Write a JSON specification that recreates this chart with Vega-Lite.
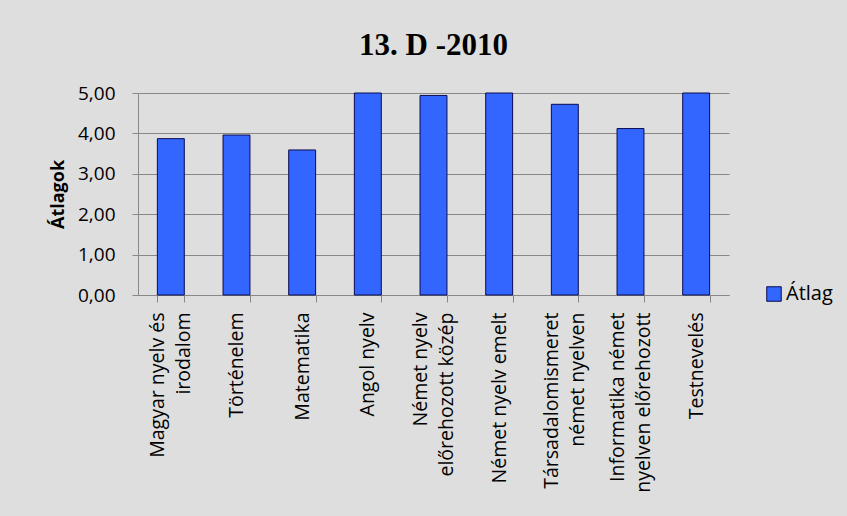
{
  "$schema": "https://vega.github.io/schema/vega-lite/v6.json",
  "autosize": {"type": "none"},
  "width": 591,
  "height": 202,
  "padding": {"left": 138, "top": 93, "right": 118, "bottom": 221},
  "background": "#dedede",
  "title": {
    "text": "13. D -2010",
    "font": "Liberation Serif",
    "fontSize": 31,
    "fontWeight": "bold",
    "color": "#000000",
    "anchor": "middle",
    "offset": 22
  },
  "data": {
    "values": [
      {"tantargy": "Magyar nyelv és|irodalom", "atlag": 3.87, "sorozat": "Átlag"},
      {"tantargy": "Történelem", "atlag": 3.96, "sorozat": "Átlag"},
      {"tantargy": "Matematika", "atlag": 3.59, "sorozat": "Átlag"},
      {"tantargy": "Angol nyelv", "atlag": 5.0, "sorozat": "Átlag"},
      {"tantargy": "Német nyelv|előrehozott közép", "atlag": 4.94, "sorozat": "Átlag"},
      {"tantargy": "Német nyelv emelt", "atlag": 5.0, "sorozat": "Átlag"},
      {"tantargy": "Társadalomismeret|német nyelven", "atlag": 4.72, "sorozat": "Átlag"},
      {"tantargy": "Informatika német|nyelven előrehozott", "atlag": 4.12, "sorozat": "Átlag"},
      {"tantargy": "Testnevelés", "atlag": 5.0, "sorozat": "Átlag"}
    ]
  },
  "mark": {"type": "bar", "stroke": "#0a0a50", "strokeWidth": 1},
  "encoding": {
    "x": {
      "field": "tantargy",
      "type": "nominal",
      "sort": null,
      "scale": {"paddingInner": 0.59, "paddingOuter": 0.295},
      "axis": {
        "title": null,
        "labelAngle": -90,
        "labelAlign": "right",
        "labelBaseline": {"condition": {"test": "indexof(datum.label, '|') >= 0", "value": "line-bottom"}, "value": "middle"},
        "labelExpr": "split(datum.label, '|')",
        "labelFont": "Open Sans",
        "labelFontSize": 19.5,
        "labelLineHeight": 26,
        "labelColor": "#000000",
        "labelPadding": 10,
        "labelLimit": 300,
        "tickBand": "extent",
        "tickColor": "#888888",
        "tickSize": 7,
        "domainColor": "#888888",
        "grid": false
      }
    },
    "y": {
      "field": "atlag",
      "type": "quantitative",
      "scale": {"domain": [0, 5], "nice": false},
      "axis": {
        "title": "Átlagok",
        "titleFont": "Open Sans",
        "titleFontSize": 18,
        "titleFontWeight": "bold",
        "titleColor": "#000000",
        "titlePadding": 10,
        "values": [0, 1, 2, 3, 4, 5],
        "labelExpr": "replace(format(datum.value, '.2f'), '.', ',')",
        "labelFont": "Open Sans",
        "labelFontSize": 19,
        "labelColor": "#000000",
        "labelPadding": 17,
        "tickColor": "#888888",
        "tickSize": 6,
        "domainColor": "#888888",
        "gridColor": "#888888",
        "gridWidth": 1
      }
    },
    "color": {
      "field": "sorozat",
      "type": "nominal",
      "scale": {"range": ["#3366ff"]},
      "legend": {
        "title": null,
        "orient": "none",
        "legendX": 626,
        "legendY": 191,
        "symbolType": "square",
        "symbolSize": 210,
        "symbolStrokeColor": "#0a0a50",
        "symbolStrokeWidth": 1,
        "labelFont": "Open Sans",
        "labelFontSize": 20,
        "labelColor": "#000000",
        "labelOffset": 2
      }
    }
  },
  "config": {
    "view": {"stroke": null}
  }
}
